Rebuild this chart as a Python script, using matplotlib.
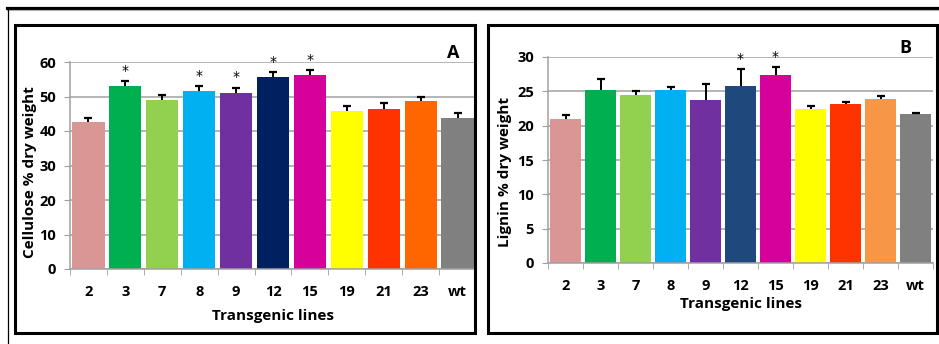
import numpy as np
import matplotlib.pyplot as plt
from matplotlib.patches import Rectangle
from matplotlib.lines import Line2D

plt.rcParams['font.family'] = ['Open Sans', 'DejaVu Sans']

lines = ['2', '3', '7', '8', '9', '12', '15', '19', '21', '23', 'wt']

# panel A - cellulose
cellulose = [42.5, 52.9, 49.0, 51.6, 51.1, 55.7, 56.2, 45.9, 46.5, 48.6, 43.7]
cellulose_err = [1.4, 1.5, 1.4, 1.4, 1.4, 1.4, 1.4, 1.3, 1.5, 1.3, 1.4]
cellulose_sig = ['3', '8', '9', '12', '15']
colors_a = ['#D99694', '#00B050', '#92D050', '#00B0F0', '#7030A0', '#002060',
            '#D6009A', '#FFFF00', '#FF3300', '#FF6600', '#808080']

# panel B - lignin
lignin = [20.9, 25.2, 24.5, 25.2, 23.7, 25.8, 27.4, 22.5, 23.1, 23.9, 21.7]
lignin_err = [0.7, 1.6, 0.6, 0.4, 2.4, 2.4, 1.1, 0.3, 0.4, 0.4, 0.2]
lignin_sig = ['12', '15']
colors_b = ['#D99694', '#00B050', '#92D050', '#00B0F0', '#7030A0', '#1F497D',
            '#D6009A', '#FFFF00', '#FF3300', '#F79646', '#808080']

W, H = 939, 344
fig = plt.figure(figsize=(W / 100, H / 100), dpi=100)


def px_box(x0, y0, x1, y1):
    # pixel coords (top-left origin) -> figure fraction rect
    return [x0 / W, 1 - y1 / H, (x1 - x0) / W, (y1 - y0) / H]


def draw_panel(rect, vals, errs, cols, sig, ymax, ystep, ylabel, letter, letter_xy,
               ylab_x, xlab_pad):
    ax = fig.add_axes(rect)
    x = np.arange(len(lines))
    vals = np.array(vals)
    tops = vals + np.array(errs)
    ax.bar(x, vals, width=0.87, color=cols, zorder=2)
    # upper error bars only
    ax.vlines(x, vals, tops, color='black', linewidth=1.4, zorder=3)
    ax.plot(x, tops, ls='none', marker='_', markersize=6, markeredgewidth=1.6,
            color='black', zorder=3)
    for i, name in enumerate(lines):
        if name in sig:
            ax.annotate('*', (x[i], tops[i]), xytext=(0, 2.5),
                        textcoords='offset points', ha='center', va='bottom',
                        fontsize=10, family='DejaVu Sans', annotation_clip=False)
    ax.set_xlim(-0.5, len(lines) - 0.5)
    ax.set_ylim(0, ymax)
    ax.set_yticks(np.arange(0, ymax + 1, ystep))
    ax.yaxis.grid(True, color='#A0A0A0', linewidth=1.1, zorder=0)
    ax.set_axisbelow(True)
    for s in ['top', 'right']:
        ax.spines[s].set_visible(False)
    for s in ['left', 'bottom']:
        ax.spines[s].set_color('#A0A0A0')
        ax.spines[s].set_linewidth(1.1)
    ax.set_xticks(x)
    ax.set_xticklabels(lines)
    ax.set_xticks(np.arange(-0.5, len(lines)), minor=True)
    ax.tick_params(axis='x', which='major', length=0, pad=11.5, labelsize=10.5)
    ax.tick_params(axis='x', which='minor', length=4, color='#A0A0A0', direction='out')
    ax.tick_params(axis='y', length=4, color='#A0A0A0', labelsize=10.5, pad=6)
    for t in ax.get_xticklabels() + ax.get_yticklabels():
        t.set_fontweight('bold')
    ax.set_xlabel('Transgenic lines', fontsize=11, fontweight='bold', labelpad=xlab_pad)
    ax.set_ylabel(ylabel, fontsize=11, fontweight='bold')
    ax.yaxis.set_label_coords(ylab_x, 0.5, transform=fig.transFigure)
    fig.text(letter_xy[0] / W, 1 - letter_xy[1] / H, letter, fontsize=13,
             fontweight='bold', ha='center', va='center')
    return ax


draw_panel(px_box(70, 62, 476, 269), cellulose, cellulose_err, colors_a, cellulose_sig,
           60, 10, 'Cellulose % dry weight', 'A', (453, 53), 37 / W, 7)
draw_panel(px_box(548, 57, 933, 263), lignin, lignin_err, colors_b, lignin_sig,
           30, 5, 'Lignin % dry weight', 'B', (905, 48), 512 / W, 3)

# panel frames
for (x0, y0, x1, y1) in [(14.5, 24.5, 475, 333), (488.5, 24.5, 936.5, 333)]:
    r = Rectangle((x0 / W, 1 - y1 / H), (x1 - x0) / W, (y1 - y0) / H,
                  transform=fig.transFigure, fill=False, edgecolor='black', linewidth=2.2)
    fig.add_artist(r)

# outer frame lines
fig.add_artist(Line2D([7 / W, 1], [1 - 7.5 / H, 1 - 7.5 / H], transform=fig.transFigure,
                      color='black', linewidth=2.3))
fig.add_artist(Line2D([7 / W, 1], [1 - 10 / H, 1 - 10 / H], transform=fig.transFigure,
                      color='#B0B0B0', linewidth=0.8))
fig.add_artist(Line2D([7.5 / W, 7.5 / W], [0, 1 - 9 / H], transform=fig.transFigure,
                      color='black', linewidth=0.9))

fig.savefig('out.png', dpi=100)
